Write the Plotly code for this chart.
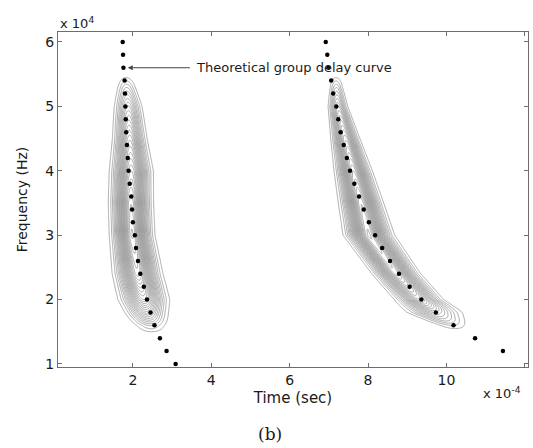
import numpy as np
import plotly.graph_objects as go

# ---- theoretical group delay curve (dots), time in 1e-4 s, freq in 1e4 Hz
left_freq = [6.0, 5.8, 5.6, 5.4, 5.2, 5.0, 4.8, 4.6, 4.4, 4.2, 4.0, 3.8, 3.6, 3.4,
             3.2, 3.0, 2.8, 2.6, 2.4, 2.2, 2.0, 1.8, 1.6, 1.4, 1.2, 1.0]
left_time = [1.74, 1.75, 1.76, 1.79, 1.80, 1.81, 1.82, 1.83, 1.85, 1.87, 1.89, 1.92, 1.96, 1.98,
             2.00, 2.05, 2.08, 2.13, 2.19, 2.28, 2.36, 2.45, 2.55, 2.69, 2.86, 3.09]
right_freq = [6.0, 5.8, 5.6, 5.4, 5.2, 5.0, 4.8, 4.6, 4.4, 4.2, 4.0, 3.8, 3.6, 3.4,
              3.2, 3.0, 2.8, 2.6, 2.4, 2.2, 2.0, 1.8, 1.6, 1.4, 1.2]
right_time = [6.92, 6.96, 6.99, 7.06, 7.11, 7.19, 7.24, 7.30, 7.38, 7.46, 7.54, 7.65, 7.77, 7.89,
              8.02, 8.18, 8.36, 8.56, 8.79, 9.06, 9.36, 9.73, 10.18, 10.73, 11.44]

# ---- time-frequency energy blobs
left_knot_f = [1.45, 1.6, 1.8, 2.0, 2.4, 3.0, 3.5, 4.0, 4.5, 5.0, 5.3, 5.5]
left_amp    = [0.0, 0.12, 0.4, 0.65, 0.9, 1.0, 0.95, 0.8, 0.6, 0.35, 0.15, 0.0]
left_center = [2.50, 2.45, 2.35, 2.28, 2.12, 1.98, 1.95, 1.96, 1.92, 1.88, 1.84, 1.82]
left_width  = [0.22, 0.24, 0.26, 0.28, 0.26, 0.23, 0.23, 0.23, 0.19, 0.17, 0.135, 0.12]

right_knot_f = [1.5, 1.6, 1.8, 2.0, 2.4, 3.0, 3.5, 4.0, 4.5, 5.0, 5.3, 5.5]
right_amp    = [0.0, 0.08, 0.3, 0.6, 0.9, 1.0, 0.95, 0.8, 0.6, 0.35, 0.15, 0.0]
right_center = [10.30, 10.15, 9.70, 9.30, 8.72, 8.02, 7.82, 7.62, 7.42, 7.23, 7.19, 7.18]
right_width  = [0.25, 0.25, 0.35, 0.27, 0.25, 0.26, 0.23, 0.20, 0.16, 0.12, 0.095, 0.09]

x_ticks = [2, 4, 6, 8, 10, 12]
y_ticks = [1, 2, 3, 4, 5, 6]

tx = np.arange(0.09, 12.09, 0.02)
fy = np.arange(0.95, 6.16, 0.015)
T, F = np.meshgrid(tx, fy)


def blob(kf, amp, cen, wid):
    a = np.interp(fy, kf, amp)[:, None]
    c = np.interp(fy, kf, cen)[:, None]
    w = np.interp(fy, kf, wid)[:, None]
    return a * np.exp(-0.5 * ((T - c) / w) ** 2)


Z = blob(left_knot_f, left_amp, left_center, left_width) + \
    blob(right_knot_f, right_amp, right_center, right_width)
Z = np.round(Z, 4)

fig = go.Figure()
fig.add_trace(go.Contour(
    x=np.round(tx, 3), y=np.round(fy, 3), z=Z,
    contours=dict(start=0.04, end=1.0, size=0.038, coloring='lines'),
    colorscale=[[0, '#8a8a8a'], [1, '#8a8a8a']],
    line=dict(width=0.7), showscale=False, hoverinfo='skip'))
fig.add_trace(go.Scatter(x=left_time, y=left_freq, mode='markers',
                         marker=dict(color='black', size=4.5), hoverinfo='skip'))
fig.add_trace(go.Scatter(x=right_time, y=right_freq, mode='markers',
                         marker=dict(color='black', size=4.5), hoverinfo='skip'))

axis_common = dict(showline=True, linecolor='#6e6e6e', linewidth=1, mirror='ticks',
                   ticks='inside', ticklen=4, tickcolor='#6e6e6e', showgrid=False,
                   zeroline=False, tickfont=dict(family='DejaVu Sans', size=14, color='#1a1a1a'))

fig.update_layout(
    width=533, height=448,
    margin=dict(l=58, r=5, t=32, b=81),
    paper_bgcolor='white', plot_bgcolor='white',
    showlegend=False,
    xaxis=dict(range=[0.09, 12.08], tickvals=x_ticks, ticktext=[str(v) for v in x_ticks],
               title=dict(text='Time (sec)', standoff=5,
                          font=dict(family='DejaVu Sans', size=15, color='#1a1a1a')),
               **axis_common),
    yaxis=dict(range=[0.953, 6.155], tickvals=y_ticks, ticktext=[str(v) for v in y_ticks],
               title=dict(text='Frequency (Hz)', standoff=14,
                          font=dict(family='DejaVu Sans', size=14, color='#1a1a1a')),
               **axis_common),
)

# arrow + label: label box starts just right of the arrow tail
fig.add_annotation(x=1.87, y=5.6, ax=6.12, ay=5.6, xref='x', yref='y', axref='x', ayref='y',
                   text='Theoretical group delay curve', showarrow=True, arrowhead=2,
                   arrowsize=1, arrowwidth=1, arrowcolor='#444444', borderpad=6,
                   font=dict(family='DejaVu Sans', size=13, color='#1a1a1a'))
fig.add_annotation(x=0.0, y=1.027, xref='paper', yref='paper', text='x 10<sup>4</sup>',
                   showarrow=False, xanchor='left', yanchor='middle',
                   font=dict(family='DejaVu Sans', size=13, color='#1a1a1a'))
fig.add_annotation(x=0.99, y=-0.078, xref='paper', yref='paper', text='x 10<sup>-4</sup>',
                   showarrow=False, xanchor='right', yanchor='middle',
                   font=dict(family='DejaVu Sans', size=13, color='#1a1a1a'))
fig.add_annotation(x=0.451, y=-0.2, xref='paper', yref='paper', text='(b)',
                   showarrow=False, xanchor='center', yanchor='middle',
                   font=dict(family='DejaVu Serif', size=17, color='#1a1a1a'))

fig.write_html('out.html')
